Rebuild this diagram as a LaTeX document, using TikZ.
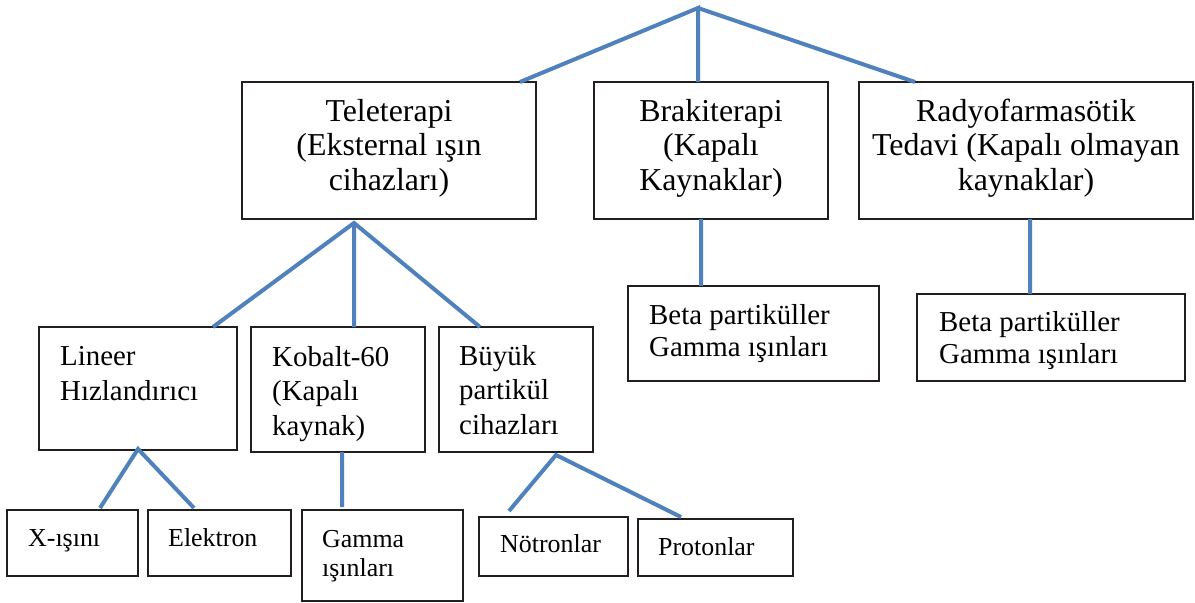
\documentclass[tikz,border=0pt]{standalone}
\usepackage{fontspec}
\setmainfont{Liberation Serif}
\definecolor{connblue}{RGB}{79,129,189}
\definecolor{boxline}{RGB}{35,31,32}
\begin{document}
\begin{tikzpicture}[x=1bp,y=-1bp,
  box/.style={draw=boxline,line width=1.9bp,inner sep=0pt,outer sep=0pt,anchor=north west},
  conn/.style={draw=connblue,line width=4bp},
  big/.style={inner sep=0pt,align=center,font=\fontsize{32}{35}\selectfont},
  mid/.style={inner sep=0pt,align=left,anchor=west,font=\fontsize{29}{35}\selectfont},
  midb/.style={inner sep=0pt,align=left,anchor=west,font=\fontsize{29}{32}\selectfont},
  small/.style={inner sep=0pt,align=left,anchor=west,font=\fontsize{26}{29}\selectfont}]
\useasboundingbox (0,0) rectangle (1195,603);
% boxes
\node[box,minimum width=294bp,minimum height=137bp] (tele) at (242,82) {};
\node[box,minimum width=234bp,minimum height=137bp] (brak) at (594,82) {};
\node[box,minimum width=334bp,minimum height=137bp] (radyo) at (859,82) {};
\node[box,minimum width=198bp,minimum height=123bp] (lineer) at (39,327) {};
\node[box,minimum width=174bp,minimum height=125bp] (kobalt) at (251,327) {};
\node[box,minimum width=154bp,minimum height=125bp] (buyuk) at (439,327) {};
\node[box,minimum width=251bp,minimum height=95bp] (betaA) at (628,286) {};
\node[box,minimum width=268bp,minimum height=87bp] (betaB) at (917,294) {};
\node[box,minimum width=131bp,minimum height=66bp] (xray) at (7,510) {};
\node[box,minimum width=143bp,minimum height=66bp] (elek) at (148,510) {};
\node[box,minimum width=161bp,minimum height=91bp] (gamma) at (302,510) {};
\node[box,minimum width=149bp,minimum height=59bp] (notron) at (479,517) {};
\node[box,minimum width=155bp,minimum height=57bp] (proton) at (638,519) {};
% texts
\node[big] (teleT) at (389,149) {\strut Teleterapi\\\strut (Eksternal ışın\\\strut cihazları)};
\node[big] (brakT) at (711,149) {\strut Brakiterapi\\\strut (Kapalı\\\strut Kaynaklar)};
\node[big] (radyoT) at (1026,149) {\strut Radyofarmasötik\\\strut Tedavi (Kapalı olmayan\\\strut kaynaklar)};
\node[mid] (lineerT) at (60,376) {\strut Lineer\\\strut Hızlandırıcı};
\node[mid] (kobaltT) at (272,394) {\strut Kobalt-60\\\strut (Kapalı\\\strut kaynak)};
\node[mid] (buyukT) at (459,393) {\strut Büyük\\\strut partikül\\\strut cihazları};
\node[midb] (betaAT) at (649,334) {\strut Beta partiküller\\\strut Gamma ışınları};
\node[midb] (betaBT) at (939,341) {\strut Beta partiküller\\\strut Gamma ışınları};
\node[small] (xrayT) at (28,541) {\strut X-ışını};
\node[small] (elekT) at (168,541) {\strut Elektron};
\node[small] (gammaT) at (322,556) {\strut Gamma\\\strut ışınları};
\node[small] (notronT) at (500,547) {\strut Nötronlar};
\node[small] (protonT) at (658,550) {\strut Protonlar};
% hub points
\coordinate (apex) at (698,8);
\coordinate (teleHub) at ([xshift=112bp,yshift=-4bp]tele.south west);
\coordinate (linHub) at ([xshift=99bp,yshift=1bp]lineer.south west);
\coordinate (buyHub) at ([xshift=117bp,yshift=-3bp]buyuk.south west);
% connectors
\draw[conn] ([xshift=278bp]tele.north west) -- (apex) -- ([xshift=104bp]brak.north west);
\draw[conn] (apex) -- ([xshift=56bp]radyo.north west);
\draw[conn] ([xshift=174bp]lineer.north west) -- (teleHub) -- ([xshift=41bp]buyuk.north west);
\draw[conn] (teleHub) -- ([xshift=103bp]kobalt.north west);
\draw[conn] ([xshift=107bp]brak.south west) -- ([xshift=73bp]betaA.north west);
\draw[conn] ([xshift=171bp]radyo.south west) -- ([xshift=113bp]betaB.north west);
\draw[conn] ([xshift=93bp,yshift=2bp]xray.north west) -- (linHub) -- ([xshift=46bp,yshift=2bp]elek.north west);
\draw[conn] ([xshift=91bp]kobalt.south west) -- ([xshift=40bp,yshift=3bp]gamma.north west);
\draw[conn] ([xshift=30bp,yshift=6bp]notron.north west) -- (buyHub) -- ([xshift=43bp,yshift=2bp]proton.north west);
\end{tikzpicture}
\end{document}
